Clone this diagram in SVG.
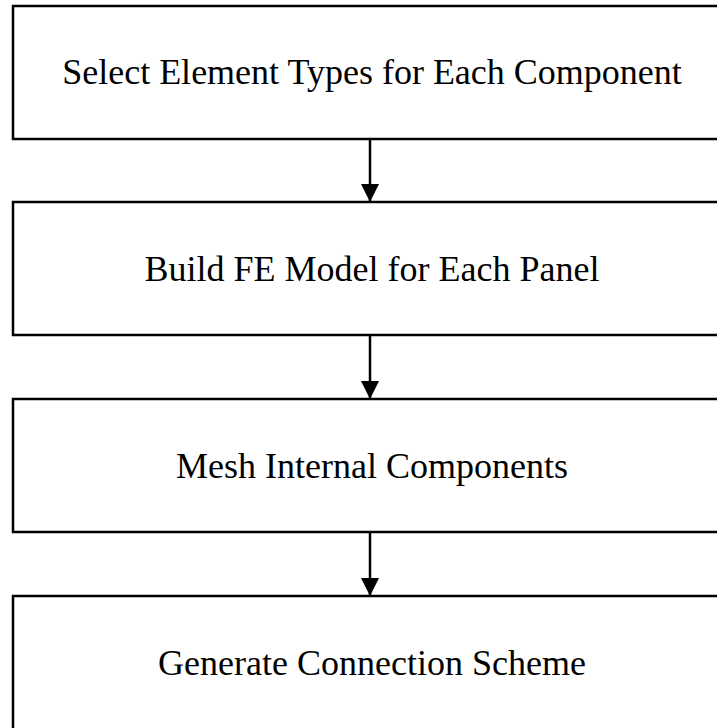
<svg xmlns="http://www.w3.org/2000/svg" width="717" height="728" viewBox="0 0 717 728">
<defs>
<style>
.box{fill:#fff;stroke:#000;stroke-width:2.5}
.lbl{font-family:"Liberation Serif","Times New Roman",serif;font-size:36px;fill:#000;text-anchor:middle}
.conn{stroke:#000;stroke-width:2.5;fill:none}
</style>
<marker id="ah" viewBox="0 0 18 18" refX="18" refY="9" markerWidth="18" markerHeight="18" markerUnits="userSpaceOnUse" orient="auto">
<path d="M0,0 L18,9 L0,18 Z" fill="#000"/>
</marker>
</defs>
<rect width="717" height="728" fill="#fff"/>
<g id="node1"><rect class="box" x="13" y="6" width="720" height="133"/><text class="lbl" x="372" y="84">Select Element Types for Each Component</text></g>
<g id="node2"><rect class="box" x="13" y="202" width="720" height="133"/><text class="lbl" x="372" y="281">Build FE Model for Each Panel</text></g>
<g id="node3"><rect class="box" x="13" y="399" width="720" height="133"/><text class="lbl" x="372" y="478">Mesh Internal Components</text></g>
<g id="node4"><rect class="box" x="13" y="596" width="720" height="140"/><text class="lbl" x="372" y="675">Generate Connection Scheme</text></g>
<g id="connectors">
<line class="conn" x1="370" y1="139" x2="370" y2="202" marker-end="url(#ah)"/>
<line class="conn" x1="370" y1="335" x2="370" y2="399" marker-end="url(#ah)"/>
<line class="conn" x1="370" y1="532" x2="370" y2="596" marker-end="url(#ah)"/>
</g>
</svg>
